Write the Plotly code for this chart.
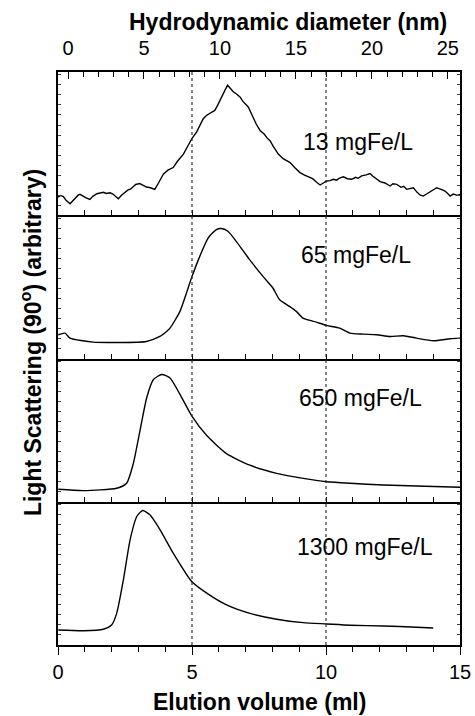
import plotly.graph_objects as go
from plotly.subplots import make_subplots

# ---------------- data (elution volume in ml, light scattering arbitrary units) ----------------
labels = ["13 mgFe/L", "65 mgFe/L", "650 mgFe/L", "1300 mgFe/L"]

vol_13 = [0.0, 0.1, 0.2, 0.3, 0.45, 0.55, 0.65, 0.75, 0.82, 0.95, 1.05, 1.19, 1.3, 1.45, 1.57,
          1.7, 1.8, 1.94, 2.05, 2.15, 2.25, 2.37, 2.49, 2.6, 2.7, 2.8, 2.9, 3.05, 3.15, 3.3,
          3.45, 3.61, 3.75, 3.93, 4.1, 4.3, 4.45, 4.68, 4.85, 4.99, 5.17, 5.3, 5.42, 5.55, 5.67,
          5.75, 5.85, 5.95, 6.04, 6.15, 6.25, 6.33, 6.42, 6.54, 6.65, 6.79, 6.9, 7.0, 7.1, 7.2,
          7.29, 7.4, 7.54, 7.7, 7.8, 7.91, 8.05, 8.22, 8.4, 8.55, 8.66, 8.85, 9.03, 9.2, 9.34,
          9.5, 9.65, 9.78, 9.9, 10.02, 10.15, 10.27, 10.4, 10.5, 10.65, 10.8, 10.96, 11.1, 11.2,
          11.33, 11.5, 11.64, 11.75, 11.85, 12.02, 12.2, 12.39, 12.5, 12.64, 12.8, 12.9, 13.01,
          13.15, 13.26, 13.4, 13.52, 13.63, 13.8, 13.95, 14.13, 14.3, 14.44, 14.55, 14.63, 14.75,
          14.9, 15.0]
ls_13 = [12.7, 13.8, 13.0, 10.5, 8.0, 10.2, 12.5, 14.0, 14.6, 13.0, 12.2, 11.0, 13.2, 15.0, 15.7,
         16.0, 15.2, 15.7, 14.8, 13.0, 11.5, 14.0, 15.7, 17.5, 18.2, 19.7, 21.5, 22.1, 21.0, 19.7,
         19.2, 18.1, 22.5, 28.6, 31.5, 33.3, 37.5, 42.7, 48.5, 53.3, 58.0, 62.5, 67.4, 69.8, 71.4,
         72.0, 73.2, 76.5, 80.3, 84.5, 88.0, 90.8, 88.5, 86.2, 84.8, 82.6, 79.5, 77.8, 75.6, 71.5,
         67.4, 63.5, 59.2, 56.5, 54.0, 52.1, 47.5, 42.7, 39.5, 38.0, 36.8, 33.0, 29.8, 28.0, 26.8,
         25.5, 23.0, 21.1, 22.5, 23.9, 24.2, 25.1, 24.5, 26.0, 26.8, 25.5, 25.1, 26.5, 25.8,
         27.5, 28.2, 29.1, 27.2, 26.0, 23.5, 22.5, 20.4, 22.0, 21.6, 19.5, 20.2, 18.1,
         18.5, 19.2, 16.0, 14.0, 13.4, 15.5, 17.5, 19.2, 18.0, 16.9, 15.0, 13.4, 14.8,
         13.9, 14.6]

vol_65 = [0.01, 0.26, 0.45, 1.32, 2.19, 3.30, 3.80, 4.05, 4.18, 4.55, 4.98, 5.29, 5.60, 5.91, 6.09,
          6.34, 6.65, 7.15, 7.65, 8.02, 8.27, 8.64, 8.89, 9.14, 9.64, 10.02, 10.51, 10.89, 11.39,
          11.89, 12.39, 12.89, 13.38, 14.01, 14.63, 15.0]
ls_65 = [16.6, 17.7, 14.2, 11.4, 11.2, 11.9, 15.4, 18.9, 21.2, 32.9, 56.2, 71.3, 84.1, 90.0, 90.7,
         88.8, 81.8, 69.0, 57.3, 49.2, 41.0, 36.4, 32.9, 28.2, 25.4, 23.1, 21.2, 17.7, 17.0,
         16.6, 15.4, 15.9, 14.2, 12.4, 13.8, 14.2]

vol_650 = [0.01, 0.95, 2.19, 2.56, 2.81, 3.06, 3.31, 3.56, 3.87, 4.18, 4.55, 4.99, 5.55, 6.29,
           7.16, 8.16, 9.15, 10.03, 10.90, 12.14, 13.38, 15.0]
ls_650 = [8.7, 7.8, 9.4, 12.9, 26.7, 49.7, 72.6, 85.3, 88.8, 86.4, 75.0, 60.0, 46.2, 33.6,
          25.5, 19.8, 16.3, 14.0, 12.9, 11.7, 11.0, 10.1]

vol_1300 = [0.01, 0.95, 1.69, 2.00, 2.19, 2.44, 2.69, 2.94, 3.16, 3.43, 3.81, 4.30, 4.99, 5.55,
            6.29, 7.16, 8.16, 9.15, 10.03, 10.90, 12.14, 13.38, 14.0]
ls_1300 = [10.5, 10.0, 11.0, 14.0, 22.1, 45.5, 73.4, 89.7, 93.9, 90.9, 80.4, 64.1, 44.3, 36.2,
           28.0, 22.1, 18.0, 15.6, 14.7, 13.8, 13.3, 12.4, 11.9]

label_x = [11.18, 11.11, 11.27, 11.46]
label_y = [50.9, 72.5, 72.6, 68.7]

marker_volumes = [5, 10]
vol_ticks = [0, 5, 10, 15]
diam_ticks = [0, 5, 10, 15, 20, 25]

series = [(vol_13, ls_13, "linear"), (vol_65, ls_65, "spline"),
          (vol_650, ls_650, "spline"), (vol_1300, ls_1300, "spline")]

FONT = "Liberation Sans, Arial, Helvetica, sans-serif"
fig = make_subplots(rows=4, cols=1, vertical_spacing=0)

for i, (xv, yv, shape) in enumerate(series):
    fig.add_trace(go.Scatter(x=xv, y=yv, mode="lines",
                             line=dict(color="black", width=1.4, shape=shape, smoothing=0.6),
                             showlegend=False, hoverinfo="skip"), row=i + 1, col=1)

# invisible trace for top diameter axis
fig.add_trace(go.Scatter(x=[0, 25], y=[50, 50], mode="lines", line=dict(width=0),
                         opacity=0, showlegend=False, hoverinfo="skip",
                         xaxis="x5", yaxis="y"))

for r in range(1, 5):
    bottom = (r == 4)
    fig.update_xaxes(row=r, col=1, range=[0, 15], showline=True, linecolor="black", linewidth=1.6,
                     mirror=(r == 1), showgrid=False, zeroline=False, automargin=False,
                     ticks="outside" if bottom else "inside",
                     tickmode="array" if bottom else "linear",
                     tickvals=vol_ticks if bottom else None,
                     dtick=None if bottom else 1, tick0=0,
                     ticklen=8 if bottom else 5, tickwidth=1.2, tickcolor="black",
                     showticklabels=bottom,
                     tickfont=dict(family=FONT, size=20, color="black"),
                     minor=dict(dtick=1, ticks="outside", ticklen=5, tickwidth=1.2,
                                tickcolor="black", showgrid=False) if bottom else None)
    fig.update_yaxes(row=r, col=1, range=[0, 100], showline=True, linecolor="black", linewidth=1.6,
                     mirror="ticks", showgrid=False, zeroline=False, ticks="inside",
                     automargin=False,
                     dtick=7, tick0=0, ticklen=3, tickwidth=1, tickcolor="#444",
                     showticklabels=False)

fig.update_layout(
    xaxis5=dict(overlaying="x", anchor="y", side="top", range=[-0.66, 25.8],
                tickmode="array", tickvals=diam_ticks, ticks="inside", ticklen=7,
                tickwidth=1.2, tickcolor="black", showgrid=False, zeroline=False,
                showline=False, automargin=False, ticklabelstandoff=12,
                tickfont=dict(family=FONT, size=20, color="black"),
                minor=dict(dtick=1, tick0=0, ticks="inside", ticklen=5, tickwidth=1.2,
                           tickcolor="black", showgrid=False)),
)

shapes = []
for v in marker_volumes:
    shapes.append(dict(type="line", xref="x", yref="paper", x0=v, x1=v, y0=0, y1=1,
                       line=dict(color="#333", width=1.2, dash="dot")))

annotations = []
for i, t in enumerate(labels):
    yref = "y" if i == 0 else f"y{i + 1}"
    xref = "x" if i == 0 else f"x{i + 1}"
    annotations.append(dict(text=t, x=label_x[i], y=label_y[i], xref=xref, yref=yref,
                            showarrow=False, xanchor="center", yanchor="middle",
                            font=dict(family=FONT, size=23, color="black")))

annotations.append(dict(text="<b>Elution volume (ml)</b>", x=0.5, y=-0.099, xref="paper",
                        yref="paper", showarrow=False, xanchor="center", yanchor="middle",
                        font=dict(family=FONT, size=23, color="black")))
annotations.append(dict(text="<b>Hydrodynamic diameter (nm)</b>", x=0.571, y=1.0873,
                        xref="paper", yref="paper", showarrow=False, xanchor="center",
                        yanchor="middle", font=dict(family=FONT, size=23, color="black")))
annotations.append(dict(text="<b>Light Scattering (90<sup>o</sup>) (arbitrary)</b>",
                        x=-0.067, y=0.527, xref="paper", yref="paper", showarrow=False,
                        xanchor="center", yanchor="middle", textangle=-90,
                        font=dict(family=FONT, size=23, color="black")))

fig.update_layout(width=475, height=716, margin=dict(l=58, r=15, t=72, b=71),
                  paper_bgcolor="white", plot_bgcolor="white",
                  shapes=shapes, annotations=annotations, showlegend=False)

fig.write_html("out.html", config={"displayModeBar": False},
               post_script="document.body.style.margin='0';")
